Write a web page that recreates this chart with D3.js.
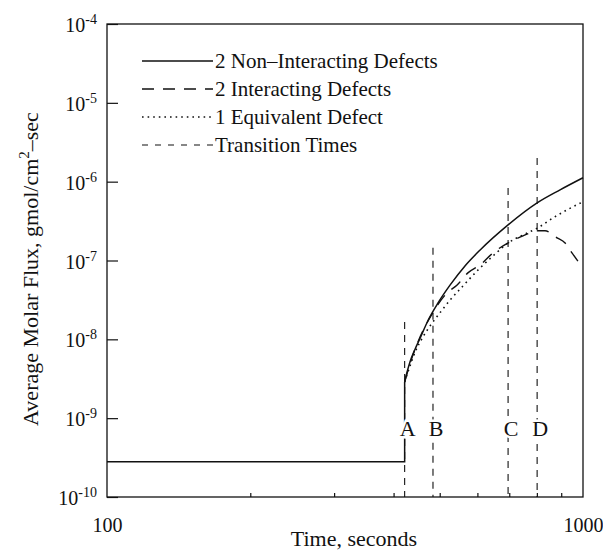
<!DOCTYPE html>
<html>
<head>
<meta charset="utf-8">
<script src="https://cdn.jsdelivr.net/npm/d3@7"></script>
<style>
  html, body { margin: 0; padding: 0; background: #fff; }
  svg text { font-family: "Liberation Serif", "Times New Roman", serif; fill: #111; }
</style>
</head>
<body>
<svg id="chart" width="603" height="555"></svg>
<script>
// ---- data ----
const baseTime = [100, 422, 422];
const baseFlux = [2.8e-10, 2.8e-10, 2.88e-9];

const nonInteractingTime = [422, 427, 433, 444, 455, 473, 496, 526, 565, 608, 696, 801, 895, 1000];
const nonInteractingFlux = [2.88e-9, 3.85e-9, 5.16e-9, 7.55e-9, 1.04e-8, 1.76e-8, 2.90e-8, 4.90e-8, 8.53e-8, 1.36e-7, 2.83e-7, 5.38e-7, 7.87e-7, 1.12e-6];

const interactingTime = [422, 437, 450, 482, 518, 544, 573, 608, 647, 702, 748, 804, 832, 882, 917, 948, 1000];
const interactingFlux = [2.88e-9, 5.8e-9, 9.27e-9, 2.10e-8, 3.88e-8, 4.90e-8, 6.97e-8, 8.79e-8, 1.25e-7, 1.72e-7, 2.05e-7, 2.38e-7, 2.38e-7, 1.94e-7, 1.67e-7, 1.25e-7, 8.05e-8];

const equivalentTime = [422, 433, 444, 461, 482, 506, 526, 557, 608, 647, 696, 748, 804, 865, 926, 1000];
const equivalentFlux = [2.88e-9, 4.59e-9, 6.92e-9, 1.07e-8, 1.61e-8, 2.36e-8, 3.16e-8, 4.62e-8, 8.05e-8, 1.14e-7, 1.67e-7, 2.11e-7, 2.60e-7, 3.47e-7, 4.39e-7, 5.55e-7];

const transitionLabels = ["A", "B", "C", "D"];
const transitionTime = [422, 484, 696, 801];
const transitionTop = [1.66e-8, 1.45e-7, 8.3e-7, 2.0e-6];

const legendLabels = ["2 Non\u2013Interacting Defects", "2 Interacting Defects", "1 Equivalent Defect", "Transition Times"];

const yTickExponents = [-4, -5, -6, -7, -8, -9, -10];
const xMinorTicks = [200, 300, 400, 500, 600, 700, 800, 900];
const xLabelTicks = [100, 1000];

// ---- layout ----
const svg = d3.select("#chart");
const L = 107, R = 583, T = 24, B = 497;
const x = d3.scaleLog().domain([100, 1000]).range([L, R]);
const y = d3.scaleLog().domain([1e-10, 1e-4]).range([B, T]);

const styles = {
  solid: null,
  interacting: "12,9",
  equivalent: "1.6,4",
  transition: "7,6"
};

// frame
svg.append("rect").attr("x", L).attr("y", T).attr("width", R - L).attr("height", B - T)
  .attr("fill", "none").attr("stroke", "#111").attr("stroke-width", 1.3);

// y ticks (inward)
const yAxis = svg.append("g").attr("transform", `translate(${L},0)`)
  .call(d3.axisLeft(y).tickValues(yTickExponents.map(e => Math.pow(10, e))).tickSize(-11).tickFormat(""));
yAxis.select(".domain").remove();
yAxis.selectAll("line").attr("stroke", "#111").attr("stroke-width", 1.2);

// y tick labels with superscript
yTickExponents.forEach(e => {
  const t = svg.append("text").attr("x", 97).attr("y", y(Math.pow(10, e)) + 8)
    .attr("text-anchor", "end").style("font-size", "20px");
  t.append("tspan").text("10");
  t.append("tspan").attr("dy", -8).style("font-size", "14px").text("-" + (-e));
});

// x minor ticks (inward)
const xAxisMinor = svg.append("g").attr("transform", `translate(0,${B})`)
  .call(d3.axisBottom(x).tickValues(xMinorTicks).tickSize(-4).tickFormat(""));
xAxisMinor.select(".domain").remove();
xAxisMinor.selectAll("line").attr("stroke", "#111").attr("stroke-width", 1.2);

// x labels
const xAxisLab = svg.append("g").attr("transform", `translate(0,${B})`)
  .call(d3.axisBottom(x).tickValues(xLabelTicks).tickSize(0).tickPadding(21).tickFormat(d3.format("d")));
xAxisLab.select(".domain").remove();
xAxisLab.selectAll("text").style("font-size", "20px").style("font-family", "'Liberation Serif', serif").attr("fill", "#111");

// axis titles
svg.append("text").attr("x", 354).attr("y", 546).attr("text-anchor", "middle")
  .style("font-size", "22px").text("Time, seconds");
const yt = svg.append("text").attr("transform", "translate(38,269) rotate(-90)")
  .attr("text-anchor", "middle").style("font-size", "22px");
yt.append("tspan").text("Average Molar Flux, gmol/cm");
yt.append("tspan").attr("dy", -9).style("font-size", "15px").text("2");
yt.append("tspan").attr("dy", 9).text("\u2013sec");

// lines
const lineLinear = d3.line().x(d => x(d[0])).y(d => y(d[1]));
const lineSmooth = d3.line().x(d => x(d[0])).y(d => y(d[1])).curve(d3.curveMonotoneX);
const zip = (a, b) => a.map((v, i) => [v, b[i]]);

// transition lines
transitionTime.forEach((t, i) => {
  svg.append("line").attr("x1", x(t)).attr("x2", x(t))
    .attr("y1", y(transitionTop[i])).attr("y2", B)
    .attr("stroke", "#111").attr("stroke-width", 1.1).attr("stroke-dasharray", styles.transition);
});

svg.append("path").attr("d", lineLinear(zip(baseTime, baseFlux)))
  .attr("fill", "none").attr("stroke", "#111").attr("stroke-width", 1.5);
svg.append("path").attr("d", lineSmooth(zip(equivalentTime, equivalentFlux)))
  .attr("fill", "none").attr("stroke", "#111").attr("stroke-width", 1.6)
  .attr("stroke-dasharray", styles.equivalent);
svg.append("path").attr("d", lineSmooth(zip(interactingTime, interactingFlux)))
  .attr("fill", "none").attr("stroke", "#111").attr("stroke-width", 1.4)
  .attr("stroke-dasharray", styles.interacting);
svg.append("path").attr("d", lineSmooth(zip(nonInteractingTime, nonInteractingFlux)))
  .attr("fill", "none").attr("stroke", "#111").attr("stroke-width", 1.5);

// transition labels
transitionTime.forEach((t, i) => {
  svg.append("text").attr("x", x(t) + 3).attr("y", B - 61).attr("text-anchor", "middle")
    .style("font-size", "22px")
    .attr("stroke", "#fff").attr("stroke-width", 5).attr("paint-order", "stroke")
    .text(transitionLabels[i]);
});

// legend
const legendStyles = [styles.solid, styles.interacting, styles.equivalent, "6,7"];
const legendWidths = [1.5, 1.4, 1.6, 1.1];
legendLabels.forEach((lab, i) => {
  const ly = 61 + i * 28;
  svg.append("line").attr("x1", 142).attr("x2", 213).attr("y1", ly).attr("y2", ly)
    .attr("stroke", "#111").attr("stroke-width", legendWidths[i])
    .attr("stroke-dasharray", legendStyles[i]);
  svg.append("text").attr("x", 215).attr("y", ly + 7).style("font-size", "21px").text(lab);
});
</script>
</body>
</html>
